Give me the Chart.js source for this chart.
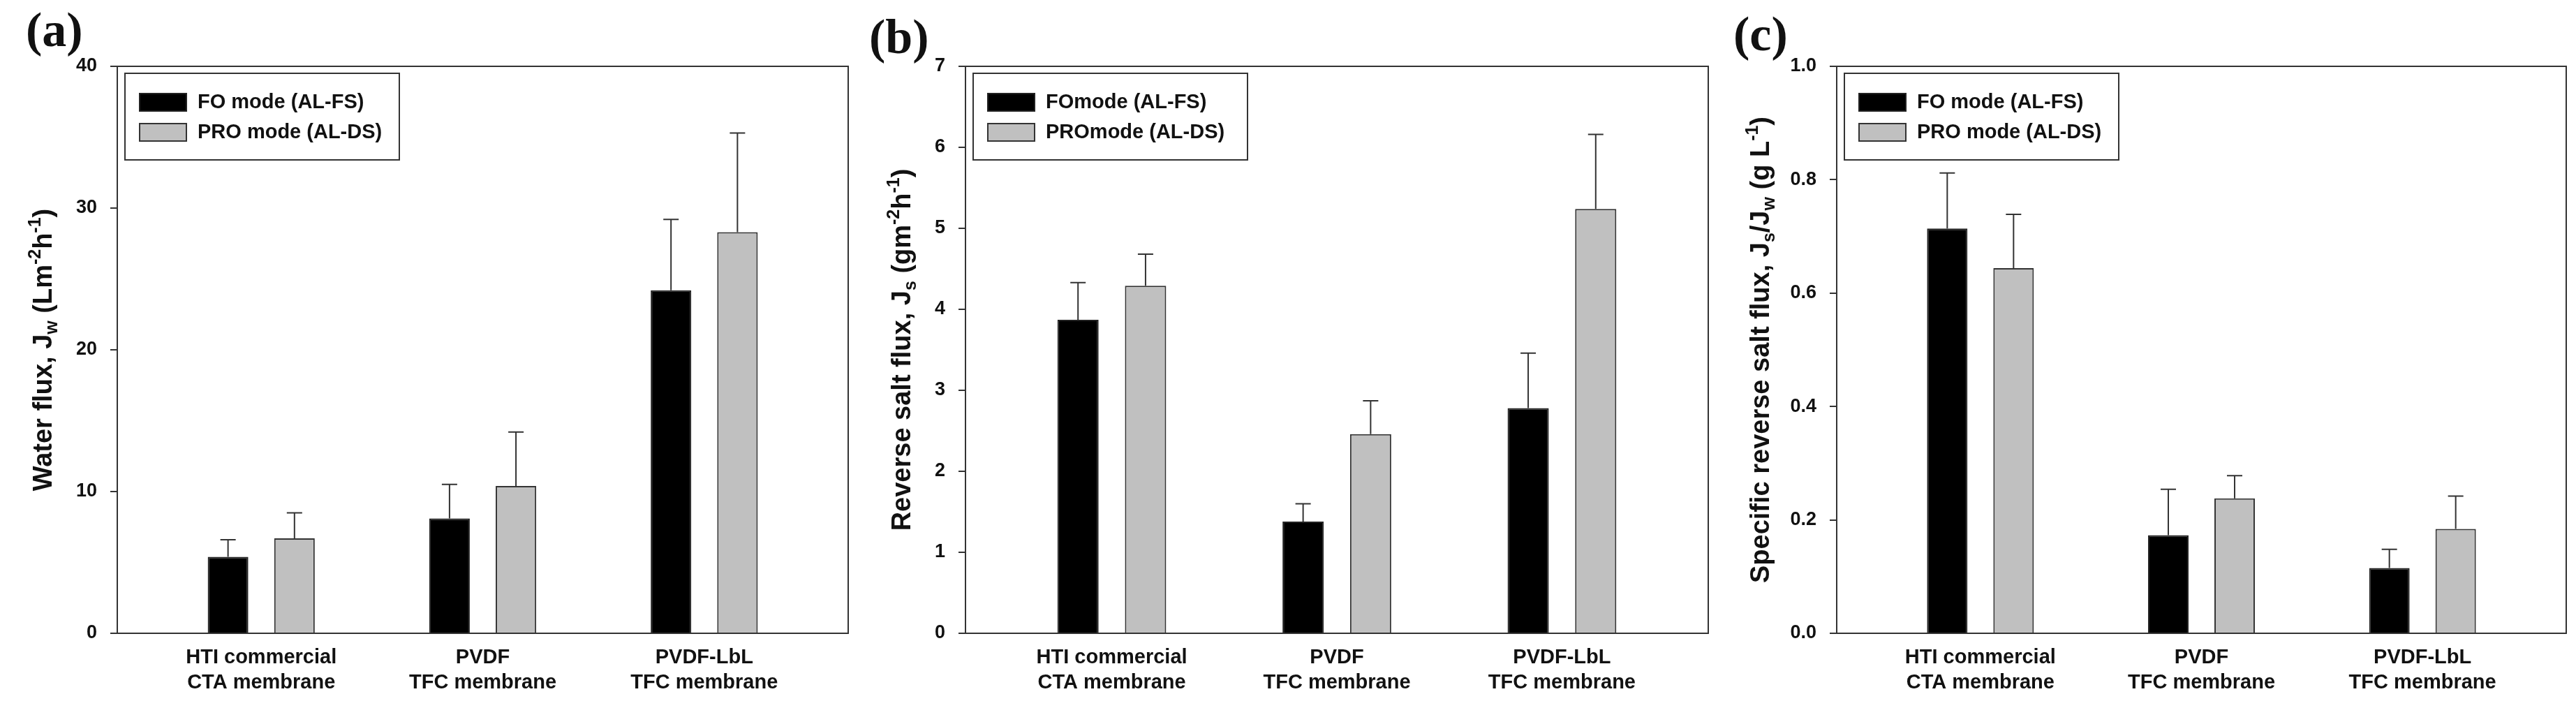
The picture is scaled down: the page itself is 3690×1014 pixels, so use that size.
<!DOCTYPE html>
<html>
<head>
<meta charset="utf-8">
<script src="https://cdn.jsdelivr.net/npm/chart.js@4.4.1/dist/chart.umd.min.js"></script>
<style>
  html, body { margin: 0; padding: 0; background: #fff; }
  #wrap { position: relative; width: 3690px; height: 1014px; }
  .panel { position: absolute; top: 0; width: 1230px; height: 1014px; }
</style>
</head>
<body>
<div id="wrap">
  <div class="panel" style="left:0px"><canvas id="ca" width="1230" height="1014"></canvas></div>
  <div class="panel" style="left:1230px"><canvas id="cb" width="1230" height="1014"></canvas></div>
  <div class="panel" style="left:2460px"><canvas id="cc" width="1230" height="1014"></canvas></div>
</div>
<script>
// membranes (x positions 1..3 on a linear axis)
const categories = [['HTI commercial', 'CTA membrane'], ['PVDF', 'TFC membrane'], ['PVDF-LbL', 'TFC membrane']];
const catPos = [1, 2, 3];

// (a) water flux, LMH
const waterFO = [5.4, 8.1, 24.2];
const waterFOErr = [1.2, 2.4, 5.0];
const waterPRO = [6.7, 10.4, 28.3];
const waterPROErr = [1.8, 3.8, 7.0];

// (b) reverse salt flux, gMH
const saltFO = [3.87, 1.38, 2.78];
const saltFOErr = [0.46, 0.22, 0.68];
const saltPRO = [4.29, 2.46, 5.24];
const saltPROErr = [0.39, 0.41, 0.92];

// (c) specific reverse salt flux, g/L
const specFO = [0.714, 0.173, 0.115];
const specFOErr = [0.098, 0.081, 0.033];
const specPRO = [0.644, 0.238, 0.184];
const specPROErr = [0.095, 0.040, 0.058];

const yTicksA = [0, 10, 20, 30, 40];
const yTicksB = [0, 1, 2, 3, 4, 5, 6, 7];
const yTicksC = [0, 0.2, 0.4, 0.6, 0.8, 1.0];

const SANS = '"Liberation Sans", Arial, sans-serif';
const SERIF = '"Liberation Serif", "Times New Roman", serif';
const INK = '#333';

function makePanel(id, cfg) {
  const W = 1230, H = 1014, plotTop = 95, plotBottom = 907;

  const errorBars = {
    id: 'errorBars',
    afterDatasetsDraw(chart) {
      const ctx = chart.ctx;
      const y = chart.scales.y;
      ctx.save();
      ctx.strokeStyle = INK;
      ctx.lineWidth = 2;
      chart.data.datasets.forEach((ds, i) => {
        const meta = chart.getDatasetMeta(i);
        meta.data.forEach((bar, j) => {
          const top = y.getPixelForValue(ds.data[j].y + ds.err[j]);
          ctx.beginPath();
          ctx.moveTo(bar.x, bar.y);
          ctx.lineTo(bar.x, top);
          ctx.moveTo(bar.x - 11, top);
          ctx.lineTo(bar.x + 11, top);
          ctx.stroke();
        });
      });
      ctx.restore();
    }
  };

  const decor = {
    id: 'decor',
    afterDraw(chart) {
      const ctx = chart.ctx;
      const a = chart.chartArea;
      ctx.save();
      // frame
      ctx.strokeStyle = INK;
      ctx.lineWidth = 2;
      ctx.strokeRect(a.left, a.top, a.right - a.left, a.bottom - a.top);

      // legend
      const lx = a.left + 11, ly = 105;
      ctx.strokeRect(lx, ly, 393, 124);
      chart.data.datasets.forEach((ds, i) => {
        const sy = 134 + i * 43;
        ctx.fillStyle = ds.backgroundColor;
        ctx.fillRect(lx + 21, sy, 67, 25);
        ctx.strokeStyle = ds.borderColor;
        ctx.lineWidth = 2;
        ctx.strokeRect(lx + 21, sy, 67, 25);
        ctx.fillStyle = '#111';
        ctx.font = 'bold 29px ' + SANS;
        ctx.textBaseline = 'middle';
        ctx.textAlign = 'left';
        ctx.fillText(ds.label, lx + 104, sy + 13);
      });

      // panel label
      ctx.fillStyle = '#111';
      ctx.font = 'bold 70px ' + SERIF;
      ctx.textBaseline = 'alphabetic';
      ctx.textAlign = 'left';
      ctx.fillText(cfg.label, cfg.labelX, cfg.labelY);

      // rotated y title with sub/superscripts
      const big = 38, small = 25;
      const seg = cfg.title.map(([t, mode]) => {
        ctx.font = 'bold ' + (mode ? small : big) + 'px ' + SANS;
        return { t, mode, w: ctx.measureText(t).width };
      });
      const total = seg.reduce((s, p) => s + p.w, 0);
      ctx.translate(74, (a.top + a.bottom) / 2);
      ctx.rotate(-Math.PI / 2);
      let x = -total / 2;
      seg.forEach(p => {
        ctx.font = 'bold ' + (p.mode ? small : big) + 'px ' + SANS;
        const dy = p.mode === 'sub' ? 8 : (p.mode === 'sup' ? -16 : 0);
        ctx.fillText(p.t, x, dy);
        x += p.w;
      });
      ctx.restore();
    }
  };

  new Chart(document.getElementById(id), {
    type: 'bar',
    data: {
      datasets: [
        {
          label: cfg.legend[0],
          data: catPos.map((c, i) => ({ x: c, y: cfg.fo[i] })),
          err: cfg.foErr,
          backgroundColor: '#000000',
          borderColor: '#222222',
          borderWidth: 2
        },
        {
          label: cfg.legend[1],
          data: catPos.map((c, i) => ({ x: c, y: cfg.pro[i] })),
          err: cfg.proErr,
          backgroundColor: '#c0c0c0',
          borderColor: '#333333',
          borderWidth: 2
        }
      ]
    },
    options: {
      responsive: false,
      animation: false,
      categoryPercentage: 0.6,
      barPercentage: 0.61,
      layout: { padding: { top: plotTop, right: W - cfg.plotRight, bottom: 0, left: 0 } },
      plugins: { legend: { display: false }, tooltip: { enabled: false } },
      scales: {
        x: {
          type: 'linear',
          offset: false,
          bounds: 'data',
          min: 0.35,
          max: 3.65,
          afterBuildTicks: s => { s.ticks = catPos.map(v => ({ value: v })); },
          afterFit: s => { s.height = H - plotBottom; },
          grid: { display: false, drawTicks: false, offset: false },
          border: { display: false },
          ticks: {
            autoSkip: false,
            maxRotation: 0,
            padding: 17,
            color: '#111',
            font: { family: SANS, size: 29, weight: 'bold', lineHeight: 1.25 },
            callback: v => categories[Math.round(v) - 1]
          }
        },
        y: {
          min: 0,
          max: cfg.yTicks[cfg.yTicks.length - 1],
          afterBuildTicks: s => { s.ticks = cfg.yTicks.map(v => ({ value: v })); },
          afterFit: s => { s.width = cfg.plotLeft; },
          grid: { drawOnChartArea: false, drawTicks: true, tickLength: 10, color: INK, lineWidth: 2 },
          border: { display: true, color: INK, width: 2 },
          ticks: {
            padding: 19,
            color: '#111',
            font: { family: SANS, size: 27, weight: 'bold' },
            callback: v => v.toFixed(cfg.digits)
          }
        }
      }
    },
    plugins: [errorBars, decor]
  });
}

makePanel('ca', {
  label: '(a)', labelX: 37, labelY: 66,
  plotLeft: 168, plotRight: 1215,
  yTicks: yTicksA, digits: 0,
  title: [['Water flux, J', ''], ['w', 'sub'], [' (Lm', ''], ['-2', 'sup'], ['h', ''], ['-1', 'sup'], [')', '']],
  legend: ['FO mode (AL-FS)', 'PRO mode (AL-DS)'],
  fo: waterFO, foErr: waterFOErr, pro: waterPRO, proErr: waterPROErr
});

makePanel('cb', {
  label: '(b)', labelX: 15, labelY: 76,
  plotLeft: 153, plotRight: 1217,
  yTicks: yTicksB, digits: 0,
  title: [['Reverse salt flux, J', ''], ['s', 'sub'], [' (gm', ''], ['-2', 'sup'], ['h', ''], ['-1', 'sup'], [')', '']],
  legend: ['FOmode (AL-FS)', 'PROmode (AL-DS)'],
  fo: saltFO, foErr: saltFOErr, pro: saltPRO, proErr: saltPROErr
});

makePanel('cc', {
  label: '(c)', labelX: 23, labelY: 72,
  plotLeft: 171, plotRight: 1216,
  yTicks: yTicksC, digits: 1,
  title: [['Specific reverse salt flux, J', ''], ['s', 'sub'], ['/J', ''], ['w', 'sub'], [' (g L', ''], ['-1', 'sup'], [')', '']],
  legend: ['FO mode (AL-FS)', 'PRO mode (AL-DS)'],
  fo: specFO, foErr: specFOErr, pro: specPRO, proErr: specPROErr
});
</script>
</body>
</html>
